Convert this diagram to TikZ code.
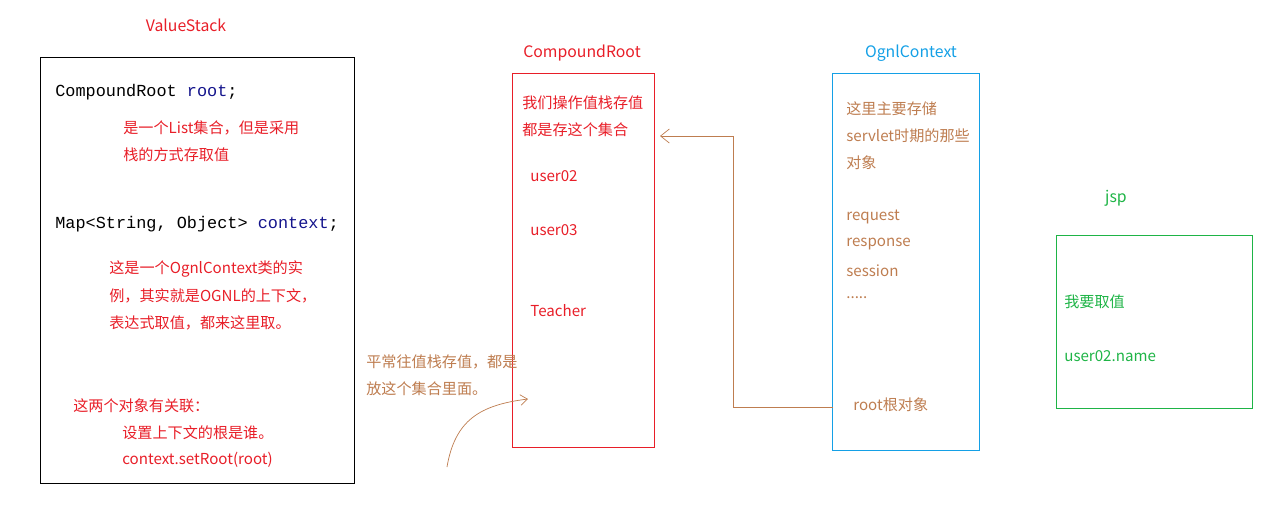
\documentclass[tikz,border=0pt]{standalone}
\usepackage{fontspec}
\setmainfont{Noto Sans CJK SC}
\setmonofont{Liberation Mono}
\usetikzlibrary{arrows.meta, positioning}
\definecolor{vsred}{RGB}{232,30,40}
\definecolor{brn}{RGB}{190,125,80}
\definecolor{oblue}{RGB}{20,160,230}
\definecolor{jgreen}{RGB}{30,180,70}
\definecolor{kw}{RGB}{20,20,140}
\tikzset{
  txt/.style={anchor=west, inner sep=0pt, font=\fontsize{8.6}{10}\selectfont},
  mono/.style={anchor=west, inner sep=0pt, font=\ttfamily\fontsize{9.6}{11}\selectfont},
  title/.style={inner sep=0pt, font=\fontsize{9}{11}\selectfont},
}
\begin{document}
\begin{tikzpicture}[x=0.02cm, y=-0.02cm]
  \useasboundingbox (0,0) rectangle (1276,508);
  % ValueStack
  \node[title, text=vsred] (vstitle) at (186,25) {ValueStack};
  \draw (40,57) rectangle (354,483);
  \node[mono] (root) at (55,92) {CompoundRoot \textcolor{kw}{root};};
  \node[txt, text=vsred] (rootA) at (123,128) {是一个List集合，但是采用};
  \node[txt, text=vsred] (rootB) at (123,155) {栈的方式存取值};
  \node[mono] (ctx) at (55,224) {Map<String, Object> \textcolor{kw}{context};};
  \node[txt, text=vsred] (ctxA) at (109,269) {这是一个OgnlContext类的实};
  \node[txt, text=vsred] (ctxB) at (109,296) {例，其实就是OGNL的上下文，};
  \node[txt, text=vsred] (ctxC) at (109,323) {表达式取值，都来这里取。};
  \node[txt, text=vsred] (relA) at (73,406) {这两个对象有关联：};
  \node[txt, text=vsred] (relB) at (122,433) {设置上下文的根是谁。};
  \node[txt, text=vsred] (relC) at (122,460) {context.setRoot(root)};
  % CompoundRoot
  \node[title, text=vsred] (crtitle) at (582,53) {CompoundRoot};
  \draw[vsred] (512,73) rectangle (654,447);
  \node[txt, text=vsred] (crA) at (522,103) {我们操作值栈存值};
  \node[txt, text=vsred] (crB) at (522,130) {都是存这个集合};
  \node[txt, text=vsred] (u2) at (530,176) {user02};
  \node[txt, text=vsred] (u3) at (530,230) {user03};
  \node[txt, text=vsred] (tch) at (530,311) {Teacher};
  \node[txt, text=brn] (pushA) at (366,362) {平常往值栈存值，都是};
  \node[txt, text=brn] (pushB) at (366,389) {放这个集合里面。};
  % OgnlContext
  \node[title, text=oblue] (octitle) at (911,53) {OgnlContext};
  \draw[oblue] (832,73) rectangle (979,450);
  \node[txt, text=brn] (ocA) at (846,109) {这里主要存储};
  \node[txt, text=brn] (ocB) at (846,136) {servlet时期的那些};
  \node[txt, text=brn] (ocC) at (846,163) {对象};
  \node[txt, text=brn] (req) at (846,217) {request};
  \node[txt, text=brn] (resp) at (846,244) {response};
  \node[txt, text=brn] (sess) at (846,271) {session};
  \node[txt, text=brn] (dots) at (846,298) {.....};
  \node[txt, text=brn] (rootobj) at (853,405) {root根对象};
  % jsp
  \node[title, text=jgreen] (jsptitle) at (1116,198) {jsp};
  \draw[jgreen] (1056,235) rectangle (1252,408);
  \node[txt, text=jgreen] (want) at (1064,302) {我要取值};
  \node[txt, text=jgreen] (uname) at (1064,356) {user02.name};
  % connectors
  \coordinate (rootend) at (833,407);
  \coordinate (crin) at (660,136);
  \draw[brn, -{Straight Barb[length=5pt,width=8pt]}] (rootend) -- (733,407) -- (733,136) -- (crin);
  \coordinate (curvestart) at (447,467);
  \coordinate (curveend) at (528,399);
  \draw[brn, -{Straight Barb[length=4pt,width=6pt]}] (curvestart) .. controls (455,420) and (480,405) .. (curveend);
\end{tikzpicture}
\end{document}
